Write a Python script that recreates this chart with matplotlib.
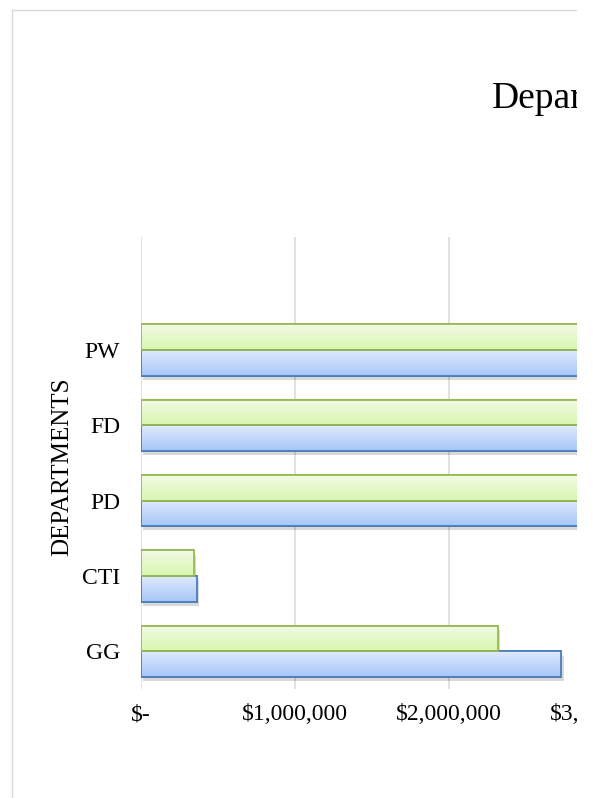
import numpy as np
import matplotlib.pyplot as plt
from matplotlib.patches import Rectangle
from matplotlib.ticker import FuncFormatter
import matplotlib.patheffects as pe
from matplotlib.colors import LinearSegmentedColormap

plt.rcParams['font.family'] = ['Liberation Serif', 'DejaVu Serif']

# departments, bottom to top; the top slot is left empty
departments = ['GG', 'CTI', 'PD', 'FD', 'PW', '']
budget_a = [2730000, 365000, 7200000, 6100000, 5400000, np.nan]   # blue series
budget_b = [2320000, 345000, 6900000, 5800000, 5100000, np.nan]   # green series
xticks = [0, 1000000, 2000000, 3000000, 4000000]

W, H = 595, 798
fig = plt.figure(figsize=(W / 100, H / 100), dpi=100)

# axes placed in pixels; the right part runs past the figure edge
left, right, top, bottom = 141, 141 + 154 * 4, 237, 689
ax = fig.add_axes([left / W, 1 - bottom / H, (right - left) / W, (bottom - top) / H])

y = np.arange(len(departments))
h = 0.34

green_map = LinearSegmentedColormap.from_list('g', ['#f2fbe6', '#d8f6ae'])
blue_map = LinearSegmentedColormap.from_list('b', ['#dfeafd', '#a6c6f8'])
grad = np.linspace(0, 1, 64).reshape(-1, 1)


def gradient_bars(ypos, vals, cmap, edge):
    bars = ax.barh(ypos, vals, height=h, color=cmap(1.0), edgecolor=edge,
                   linewidth=1.3, zorder=2,
                   path_effects=[pe.SimplePatchShadow(offset=(1.5, -3), shadow_rgbFace='#000000', alpha=0.15),
                                 pe.Normal()])
    for b in bars:
        x0, y0 = b.get_x(), b.get_y()
        if not np.isfinite(b.get_width()):
            continue
        im = ax.imshow(grad, cmap=cmap, aspect='auto', zorder=2.5,
                       extent=(x0, x0 + b.get_width(), y0, y0 + b.get_height()),
                       origin='upper')
        im.set_clip_path(b)
        ax.add_patch(Rectangle((x0, y0), b.get_width(), b.get_height(), fill=False,
                               edgecolor=edge, linewidth=1.3, zorder=3))


gradient_bars(y - h / 2, budget_a, blue_map, '#4a7ebb')
gradient_bars(y + h / 2, budget_b, green_map, '#98b954')
ax.set_xlim(0, 4000000)
ax.set_ylim(-0.5, len(departments) - 0.5)

ax.set_xticks(xticks)
ax.xaxis.set_major_formatter(FuncFormatter(lambda v, p: '$-' if v == 0 else '${:,.0f}'.format(v)))
ax.set_yticks(y)
ax.set_yticklabels(departments)
ax.tick_params(axis='both', length=0, labelsize=17)
ax.tick_params(axis='x', pad=11)
ax.tick_params(axis='y', pad=15)
ax.grid(axis='x', color='#d9d9d9', linewidth=1.1, zorder=0)
ax.set_axisbelow(True)
for s in ax.spines.values():
    s.set_visible(False)

fig.text(62 / W, 1 - 467 / H, 'DEPARTMENTS', rotation=90, ha='center', va='center', fontsize=18)
fig.text(492 / W, 1 - 108 / H, 'Departments', ha='left', va='baseline', fontsize=27)

# chart border, light gray
fig.add_artist(Rectangle((12 / W, -0.2), 1.5, 1.2 - 10 / H, transform=fig.transFigure,
                         fill=False, edgecolor='#d9d9d9', linewidth=1, zorder=5))
# blank strip on the right edge
fig.add_artist(Rectangle((577 / W, 0), 1, 1, transform=fig.transFigure,
                         facecolor='white', edgecolor='none', zorder=10))

fig.savefig('out.png', dpi=100)
